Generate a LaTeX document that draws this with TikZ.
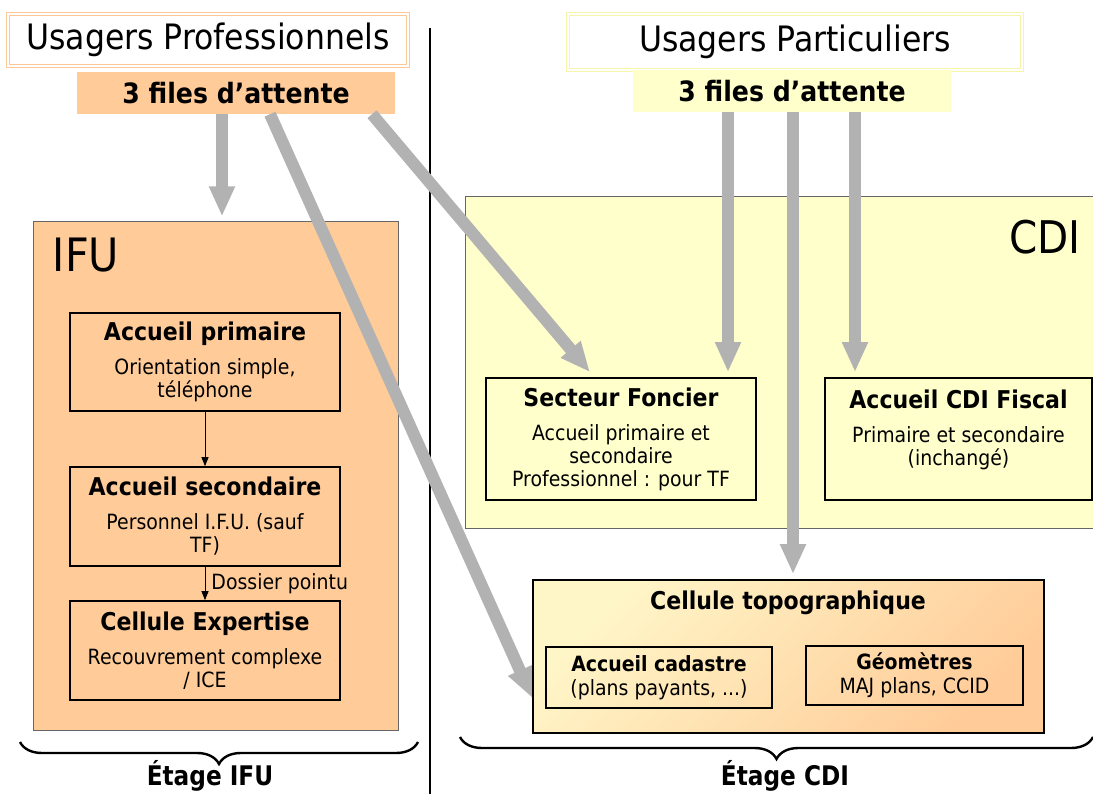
\documentclass[tikz,border=0pt]{standalone}
\usepackage{fontspec}
\setmainfont{DejaVu Sans}[FakeStretch=0.9]
\newfontfamily\etagefont{DejaVu Sans}[FakeStretch=0.86]
\usetikzlibrary{arrows.meta,decorations.pathreplacing,positioning}
\definecolor{proOrange}{HTML}{FFCC99}
\definecolor{partYellow}{HTML}{FFFFCC}
\definecolor{topoLight}{HTML}{FFF6C8}
\definecolor{fluxGray}{HTML}{B2B2B2}
\definecolor{proFrame}{HTML}{FBC896}
\definecolor{partFrame}{HTML}{F9F5A8}

\begin{document}
\begin{tikzpicture}[x=1pt,y=-1pt,
    usager/.style={double=white, double distance=2.5pt, line width=0.9pt, font=\fontsize{35}{40}\selectfont},
    files/.style={minimum width=318pt, minimum height=42pt, inner sep=0pt, font=\bfseries\fontsize{28}{32}\selectfont},
    etage/.style={draw=black!60, line width=1pt, inner sep=0pt},
    service/.style={draw, line width=1.6pt, inner sep=0pt, align=center, font=\fontsize{21}{23}\selectfont},
    titre/.style={font=\bfseries\fontsize{24.5}{28}\selectfont},
    flux/.style={draw=fluxGray, line width=12pt, -{Triangle[width=24pt,length=30pt]}},
    lien/.style={-{Triangle[width=7pt,length=9pt]}, line width=0.9pt},
    accolade/.style={decorate, decoration={brace, mirror, amplitude=22pt}, line width=2.4pt}]
   \useasboundingbox (0,0) rectangle (1093,794);

   % usagers et files d'attente
   \node[usager, draw=proFrame, minimum width=400pt, minimum height=52pt] (usPro) at (208,40) {Usagers Professionnels};
   \node[files, fill=proOrange] (filesPro) at (236,93) {3 files d’attente};
   \node[usager, draw=partFrame, minimum width=454pt, minimum height=56pt] (usPart) at (795,42) {Usagers Particuliers};
   \node[files, fill=partYellow] (filesPart) at (792,91) {3 files d’attente};

   \draw[line width=2pt] (430,28) -- (430,794);

   % etage IFU
   \node[etage, fill=proOrange, minimum width=365pt, minimum height=508pt] (ifu) at (215.5,476) {};
   \node[font=\fontsize{46}{50}\selectfont] (ifuTitre) at (86,255) {IFU};
   \node[service, minimum width=270pt, minimum height=98pt] (primaire) at (205,362)
      {\textbf{\fontsize{24.5}{28}\selectfont Accueil primaire}\\[11pt] Orientation simple,\\ téléphone};
   \node[service, minimum width=270pt, minimum height=99pt] (secondaire) at (205,516.5)
      {\textbf{\fontsize{24.5}{28}\selectfont Accueil secondaire}\\[11pt] Personnel I.F.U. (sauf\\ TF)};
   \node[service, minimum width=270pt, minimum height=99pt] (expertise) at (205,650.5)
      {\textbf{\fontsize{24.5}{28}\selectfont Cellule Expertise}\\[11pt] Recouvrement complexe\\ / ICE};
   \draw[lien] (primaire) -- (secondaire);
   \draw[lien] (secondaire) -- node[right, font=\fontsize{21}{24}\selectfont, inner sep=6pt] {Dossier pointu} (expertise);

   % etage CDI
   \node[etage, fill=partYellow, minimum width=640pt, minimum height=331pt] (cdi) at (785,362.5) {};
   \node[font=\fontsize{45}{50}\selectfont] (cdiTitre) at (1045,237) {CDI};
   \node[service, minimum width=270pt, minimum height=122pt] (foncier) at (621,439)
      {\textbf{\fontsize{24.5}{28}\selectfont Secteur Foncier}\\[11pt] Accueil primaire et\\ secondaire\\ Professionnel : pour TF};
   \node[service, minimum width=267pt, minimum height=122pt] (fiscal) at (958.5,439)
      {\textbf{\fontsize{24.5}{28}\selectfont Accueil CDI Fiscal}\\[11pt] Primaire et secondaire\\ (inchangé)\\ \mbox{}};
   \node[etage, draw=black, line width=1.6pt, top color=topoLight, bottom color=proOrange, shading angle=45,
         minimum width=511pt, minimum height=153pt] (topo) at (788.5,656.5) {};
   \node[titre] (topoTitre) at (788,603) {Cellule topographique};
   \node[service, font=\fontsize{21}{24}\selectfont, minimum width=226pt, minimum height=61pt] (cadastre) at (659,677.5)
      {\textbf{Accueil cadastre}\\ (plans payants, ...)};
   \node[service, font=\fontsize{21}{24}\selectfont, minimum width=217pt, minimum height=59pt] (geometres) at (914.5,675.5)
      {\textbf{Géomètres}\\ MAJ plans, CCID};

   % flux des usagers
   \coordinate (srcIfu) at ([xshift=-14pt]filesPro.south);
   \coordinate (srcTopoPro) at ([xshift=34pt]filesPro.south);
   \coordinate (srcFoncierPro) at ([xshift=136pt]filesPro.south);
   \coordinate (srcFoncier) at ([xshift=-64pt]filesPart.south);
   \coordinate (srcTopo) at ([xshift=1pt]filesPart.south);
   \coordinate (srcFiscal) at ([xshift=63pt]filesPart.south);
   \draw[flux, shorten >=5pt] (srcIfu) -- (srcIfu |- ifu.north);
   \draw[flux] (srcTopoPro) -- ([xshift=-13pt,yshift=11pt]cadastre.south west);
   \draw[flux] (srcFoncierPro) -- ([xshift=-31pt,yshift=5pt]foncier.north);
   \draw[flux, shorten >=5pt] (srcFoncier) -- (srcFoncier |- foncier.north);
   \draw[flux, shorten >=5pt] (srcTopo) -- (srcTopo |- topo.north);
   \draw[flux, shorten >=5pt] (srcFiscal) -- (srcFiscal |- fiscal.north);

   % etages
   \coordinate (ifuG) at (20,742);
   \coordinate (ifuD) at (418,742);
   \coordinate (cdiG) at (460,737);
   \coordinate (cdiD) at (1093,737);
   \draw[accolade] (ifuG) -- (ifuD);
   \draw[accolade] (cdiG) -- (cdiD);
   \node[font=\etagefont\bfseries\fontsize{27}{31}\selectfont] (etageIfu) at (210,776) {Étage IFU};
   \node[font=\etagefont\bfseries\fontsize{27}{31}\selectfont] (etageCdi) at (785,776) {Étage CDI};
\end{tikzpicture}
\end{document}
